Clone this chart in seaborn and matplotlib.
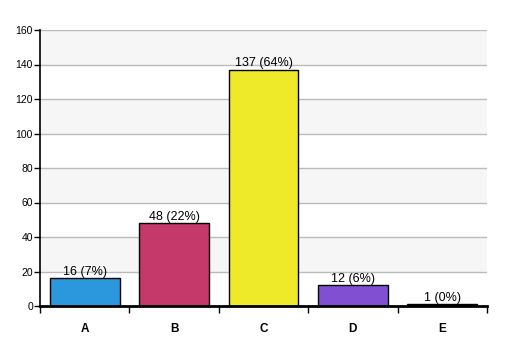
import matplotlib
matplotlib.use("Agg")
import matplotlib.pyplot as plt
import seaborn as sns
import pandas as pd
import numpy as np

categories = ["A", "B", "C", "D", "E"]
values = [16, 48, 137, 12, 1]
percents = ["7%", "22%", "64%", "6%", "0%"]
colors = ["#2b97dc", "#c4386a", "#eeea2a", "#8150d2", "#111111"]

sns.set_style("white")
plt.rcParams['font.family'] = ['Liberation Sans', 'DejaVu Sans']
plt.rcParams['text.color'] = 'black'
plt.rcParams['xtick.color'] = 'black'
plt.rcParams['ytick.color'] = 'black'

df = pd.DataFrame({"cat": categories, "val": values})

fig = plt.figure(figsize=(5.07, 3.56), dpi=100)
ax = fig.add_axes([40/507, 50/356, 447/507, 276/356])

# alternating bands
for lo in range(20, 160, 40):
    ax.axhspan(lo, lo + 20, color="#f6f6f6", zorder=0, lw=0)
for y in range(20, 161, 20):
    ax.axhline(y, color="#bbbbbb", lw=1, zorder=0.5)

sns.barplot(data=df, x="cat", y="val", hue="cat", palette=colors, legend=False,
            saturation=1, edgecolor="black", linewidth=1, width=0.78, ax=ax, zorder=2)

for i, (v, p) in enumerate(zip(values, percents)):
    ax.text(i, v + 0.3, f"{v} ({p})", ha="center", va="bottom", fontsize=9, color="black", zorder=3)

ax.set_xlim(-0.5, 4.5)
ax.set_ylim(0, 160)
ax.set_yticks(range(0, 161, 20))
ax.set_xlabel("")
ax.set_ylabel("")
ax.tick_params(axis="y", length=4, width=1, color="black", labelcolor="black", labelsize=7.5, pad=1, direction="out", left=True)
ax.tick_params(axis="x", which="major", length=0, labelsize=8.5, labelcolor="black", pad=12)
ax.set_xticks(np.arange(-0.5, 5, 1), minor=True)
ax.tick_params(axis="x", which="minor", length=5, width=1, color="black", direction="out", bottom=True)
for lab in ax.get_xticklabels():
    lab.set_fontweight("bold")

for s in ["top", "right"]:
    ax.spines[s].set_visible(False)
ax.spines["left"].set_color("black")
ax.spines["left"].set_linewidth(1.2)
ax.spines["bottom"].set_color("black")
ax.spines["bottom"].set_linewidth(2)
ax.spines["bottom"].set_zorder(4)

fig.savefig("out.png", dpi=100)
